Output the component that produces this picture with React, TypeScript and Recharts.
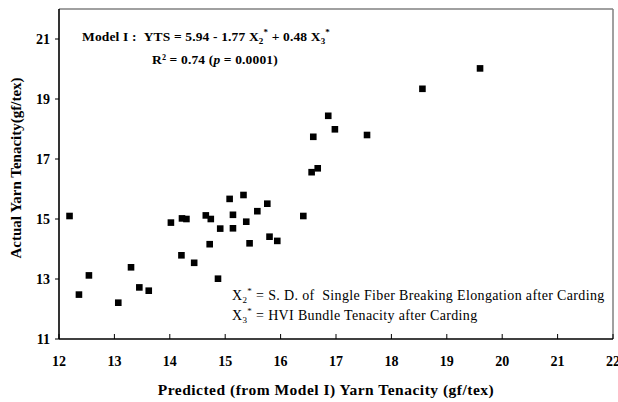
import { ScatterChart, Scatter, XAxis, YAxis, ReferenceLine } from 'recharts'

const predicted = [
  12.19, 12.36, 12.54, 13.07, 13.3, 13.45, 13.62, 14.02, 14.21, 14.22, 14.3, 14.44,
  14.65, 14.72, 14.74, 14.87, 14.91, 15.08, 15.14, 15.14, 15.33, 15.38, 15.44, 15.58,
  15.76, 15.8, 15.94, 16.41, 16.56, 16.59, 16.67, 16.86, 16.98, 17.56, 18.56, 19.6,
]
const actual = [
  15.1, 12.48, 13.12, 12.21, 13.39, 12.72, 12.61, 14.88, 13.79, 15.02, 15.0, 13.54,
  15.12, 14.16, 15.0, 13.01, 14.68, 15.67, 15.14, 14.69, 15.8, 14.91, 14.19, 15.26,
  15.51, 14.41, 14.27, 15.1, 16.56, 17.74, 16.69, 18.44, 17.99, 17.8, 19.34, 20.02,
]
const xTicks = [12, 13, 14, 15, 16, 17, 18, 19, 20, 21, 22]
const yTicks = [11, 13, 15, 17, 19, 21]

const points = predicted.map((x, i) => ({ x, y: actual[i] }))

const serif = '"Liberation Serif", "DejaVu Serif", serif'

const Square = (p: any) => <rect x={p.cx - 3.3} y={p.cy - 3.3} width={6.6} height={6.6} fill="#000" />

// ticks point up into the plot, labels sit below the axis
const XTick = (p: any) => (
  <g>
    <line x1={p.x} x2={p.x} y1={p.y} y2={p.y - 5} stroke="#000" strokeWidth={1} />
    <text x={p.x} y={p.y + 27} textAnchor="middle" fontFamily={serif} fontWeight="bold" fontSize={14} fill="#000">
      {p.payload.value}
    </text>
  </g>
)

export default function App() {
  return (
    <div style={{ position: 'absolute', left: 0, top: 0, width: 618, height: 402, background: '#fff' }}>
      <ScatterChart width={618} height={402} margin={{ top: 9, right: 5, bottom: 33, left: 9 }}>
        <XAxis
          type="number"
          dataKey="x"
          domain={[12, 22]}
          ticks={xTicks}
          interval={0}
          height={30}
          axisLine={{ stroke: '#000', strokeWidth: 1.6 }}
          tickLine={false}
          tickSize={0}
          tickMargin={0}
          tick={XTick}
        />
        <YAxis
          type="number"
          dataKey="y"
          domain={[11, 22]}
          ticks={yTicks}
          interval={0}
          width={50}
          axisLine={{ stroke: '#000', strokeWidth: 1.6 }}
          tickLine={{ stroke: '#000' }}
          tickSize={4}
          tickMargin={5}
          tick={{ fill: '#000', fontFamily: serif, fontWeight: 'bold', fontSize: 14 }}
        />
        <ReferenceLine y={22} stroke="#808080" strokeWidth={1.5} />
        <ReferenceLine x={22} stroke="#808080" strokeWidth={1.5} />
        <Scatter data={points} shape={Square} isAnimationActive={false} />
        <text x={82} y={41} fontFamily={serif} fontWeight="bold" fontSize={13.5} letterSpacing={0.15} fill="#000">
          Model I :{'\u00a0\u00a0'}YTS = 5.94 - 1.77 X
          <tspan dy={3} fontSize={9}>2</tspan>
          <tspan dy={-9} fontSize={9}>*</tspan>
          <tspan dy={6}> + 0.48 X</tspan>
          <tspan dy={3} fontSize={9}>3</tspan>
          <tspan dy={-9} fontSize={9}>*</tspan>
        </text>
        <text x={152} y={64} fontFamily={serif} fontWeight="bold" fontSize={13.5} letterSpacing={0.15} fill="#000">
          R² = 0.74 (<tspan fontStyle="italic">p</tspan> = 0.0001)
        </text>
        <text x={232} y={300} fontFamily={serif} fontSize={14} letterSpacing={0.35} fill="#000">
          X
          <tspan dy={3} fontSize={9}>2</tspan>
          <tspan dy={-9} fontSize={9}>*</tspan>
          <tspan dy={6}> = S. D. of{'\u00a0\u00a0'}Single Fiber Breaking Elongation after Carding</tspan>
        </text>
        <text x={232} y={320} fontFamily={serif} fontSize={14} letterSpacing={0.35} fill="#000">
          X
          <tspan dy={3} fontSize={9}>3</tspan>
          <tspan dy={-9} fontSize={9}>*</tspan>
          <tspan dy={6}> = HVI Bundle Tenacity after Carding</tspan>
        </text>
        <text
          x={326}
          y={395}
          textAnchor="middle"
          fontFamily={serif}
          fontWeight="bold"
          fontSize={15.5}
          letterSpacing={0.5}
          fill="#000"
        >
          Predicted (from Model I) Yarn Tenacity (gf/tex)
        </text>
        <text
          x={0}
          y={0}
          transform="translate(21, 168) rotate(-90)"
          textAnchor="middle"
          fontFamily={serif}
          fontWeight="bold"
          fontSize={15}
          fill="#000"
        >
          Actual Yarn Tenacity(gf/tex)
        </text>
      </ScatterChart>
    </div>
  )
}
